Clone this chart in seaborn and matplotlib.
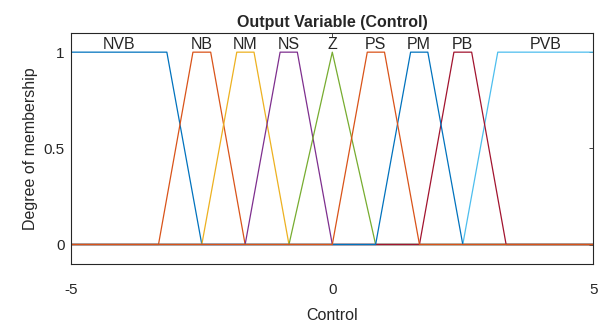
import numpy as np
import pandas as pd
import matplotlib
matplotlib.use("Agg")
import matplotlib.pyplot as plt
import seaborn as sns

# Funções de pertinência (trapézios / triângulo) da variável de saída
nomes = ["NVB", "NB", "NM", "NS", "Z", "PS", "PM", "PB", "PVB"]
pontos = [
    [-5.0, -5.0, -3.17, -2.5],
    [-3.33, -2.67, -2.33, -1.67],
    [-2.5, -1.83, -1.5, -0.83],
    [-1.67, -1.0, -0.67, 0.0],
    [-0.83, 0.0, 0.0, 0.83],
    [0.0, 0.67, 1.0, 1.67],
    [0.83, 1.5, 1.83, 2.5],
    [1.67, 2.33, 2.67, 3.33],
    [2.5, 3.17, 5.0, 5.0],
]
cores = ["#0072BD", "#D95319", "#EDB120", "#7E2F8E", "#77AC30",
         "#D95319", "#0072BD", "#A2142F", "#4DBEEE"]
ordem = [0, 1, 2, 3, 4, 8, 7, 6, 5]

xs = np.linspace(-5, 5, 2001)


def trapmf(x, p):
    a, b, c, d = p
    y = np.zeros_like(x)
    subida = (x > a) & (x < b)
    y[subida] = (x[subida] - a) / (b - a)
    y[(x >= b) & (x <= c)] = 1.0
    descida = (x > c) & (x < d)
    y[descida] = (d - x[descida]) / (d - c)
    return y


sns.set_style("white")
plt.rcParams["font.family"] = ["Liberation Sans", "DejaVu Sans"]
plt.rcParams["axes.unicode_minus"] = False
cinza = "#262626"

fig = plt.figure(figsize=(6.06, 3.26), dpi=100)
ax = fig.add_axes([0.1177, 0.191, 0.8613, 0.708])

for i in ordem:
    df = pd.DataFrame({"x": xs, "y": trapmf(xs, pontos[i])})
    sns.lineplot(data=df, x="x", y="y", ax=ax, color=cores[i], linewidth=0.9)

for nome, p in zip(nomes, pontos):
    centro = (p[1] + p[2]) / 2
    ax.text(centro, 1.0, nome, ha="center", va="bottom", fontsize=11.5, color=cinza)

ax.set_xlim(-5, 5)
ax.set_ylim(-0.1, 1.1)
ax.set_xticks([-5, 0, 5])
ax.set_yticks([0, 0.5, 1])
ax.set_yticklabels(["0", "0.5", "1"])
ax.tick_params(direction="in", length=3, top=True, right=True, labelsize=11,
               colors=cinza, width=0.6)
ax.tick_params(axis="x", pad=14)
ax.tick_params(axis="y", pad=5)
for s in ax.spines.values():
    s.set_visible(True)
    s.set_color(cinza)
    s.set_linewidth(0.8)
ax.set_xlabel("Control", fontsize=11.5, color=cinza, labelpad=8)
ax.set_ylabel("Degree of membership", fontsize=11.5, color=cinza, labelpad=4)
ax.set_title("Output Variable (Control)", fontsize=11.5, fontweight="bold", pad=4)

fig.savefig("out.png", dpi=100)
